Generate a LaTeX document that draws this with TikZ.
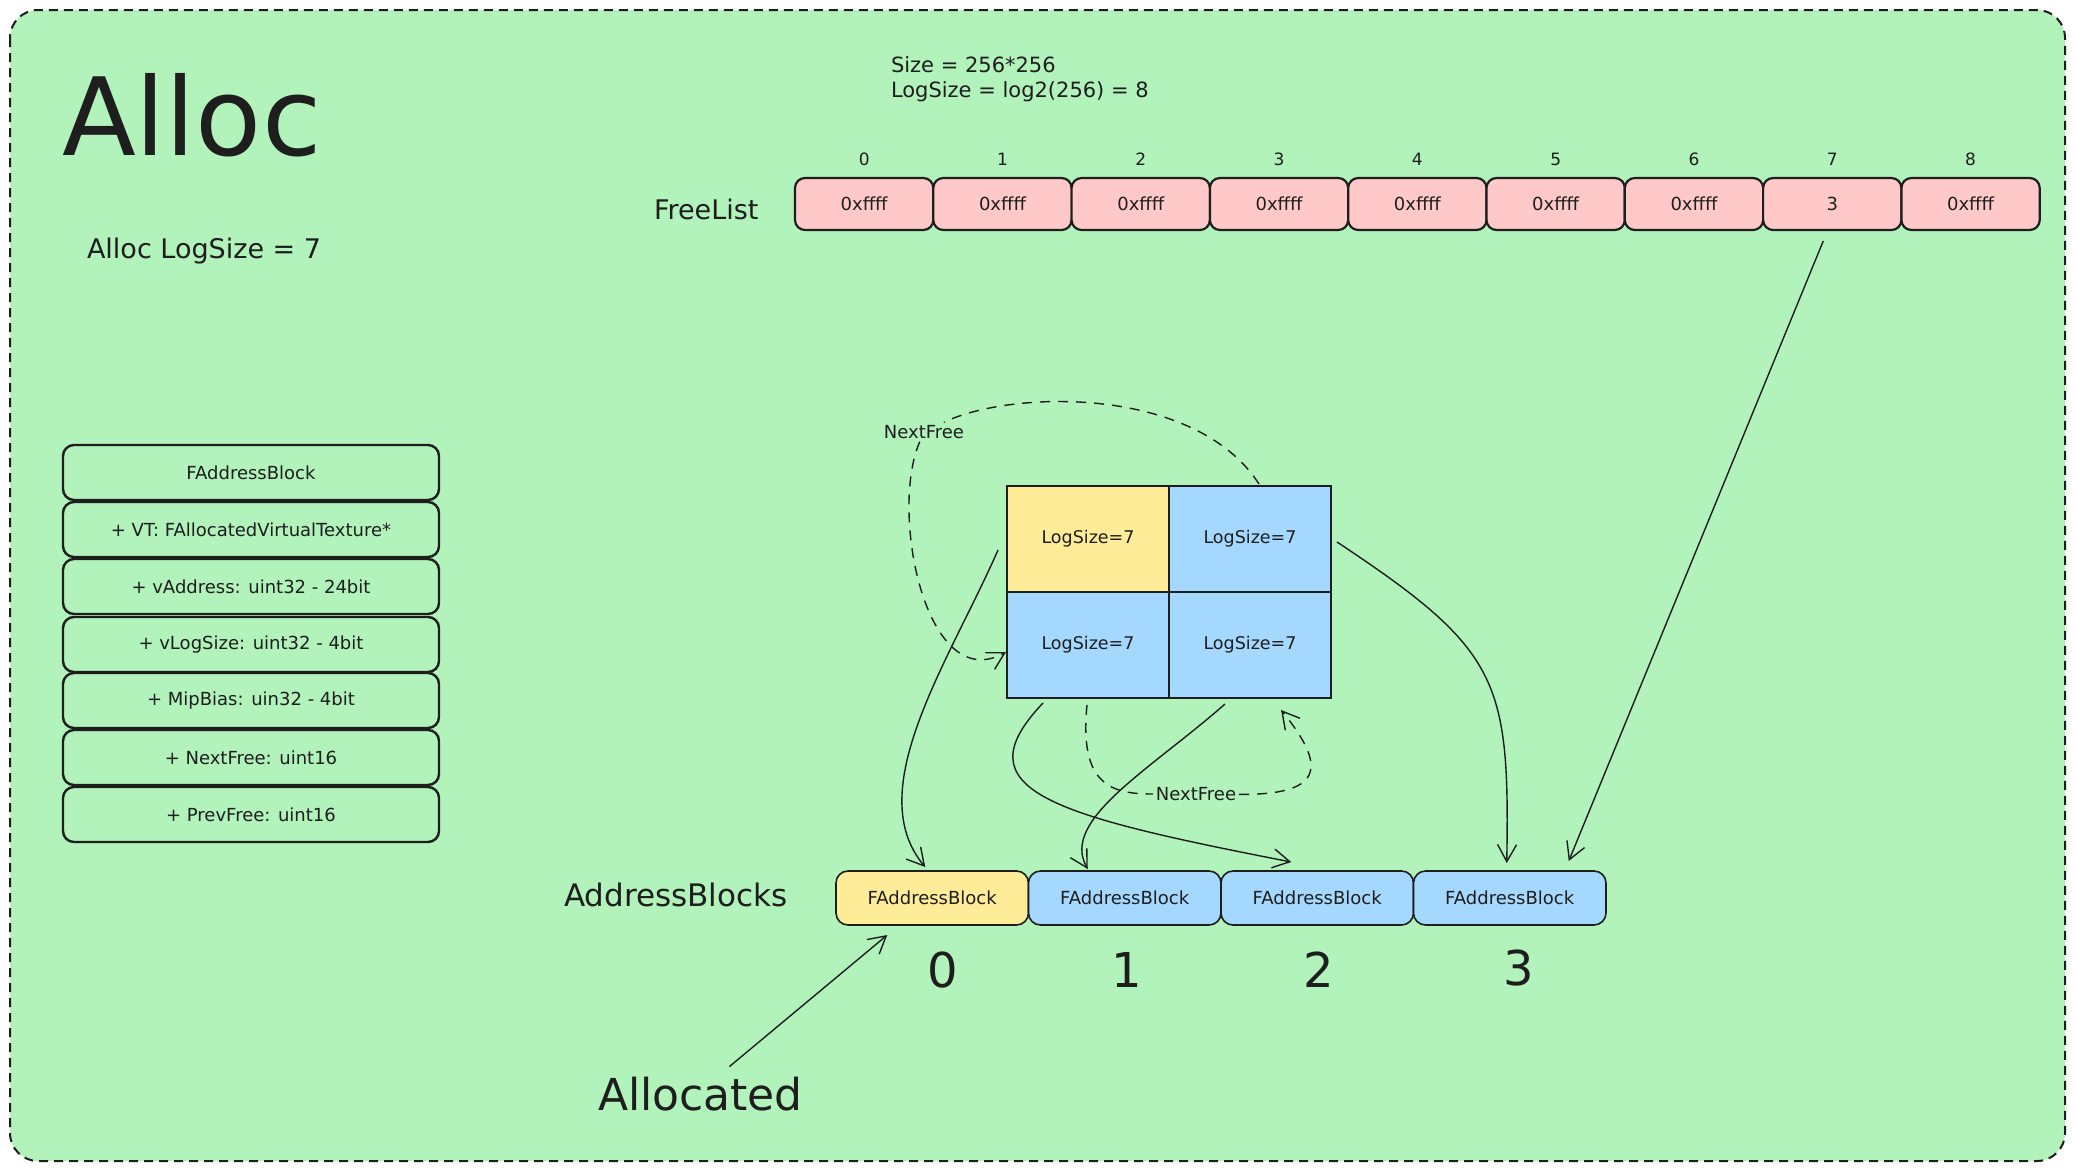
\documentclass[tikz,border=0pt]{standalone}
\usepackage{fontspec}
\setmainfont{DejaVu Sans}
\usetikzlibrary{arrows.meta,calc}
\newcommand{\myfs}[1]{\fontsize{#1}{#1}\selectfont}
\definecolor{bggreen}{HTML}{B2F2BB}
\definecolor{ink}{HTML}{1E1E1E}
\definecolor{pinkfill}{HTML}{FFC9C9}
\definecolor{yellowfill}{HTML}{FFEC99}
\definecolor{bluefill}{HTML}{A5D8FF}
\begin{document}
\begin{tikzpicture}[x=1pt,y=-1pt,
  txt/.style={text=ink, inner sep=0pt, outer sep=0pt},
  flbox/.style={draw=ink, fill=pinkfill, rounded corners=10pt, line width=2.2pt, minimum width=138.3pt, minimum height=52pt, inner sep=0pt, outer sep=0pt, anchor=north west, text=ink, font=\myfs{18}},
  flidx/.style={txt, font=\myfs{17}},
  umlbox/.style={draw=ink, rounded corners=11pt, line width=2.4pt, minimum width=376pt, minimum height=55pt, inner sep=0pt, outer sep=0pt, anchor=north west, text=ink, font=\myfs{18}},
  cellbox/.style={draw=ink, line width=2.2pt, minimum width=162pt, minimum height=106pt, inner sep=0pt, outer sep=0pt, anchor=north west, text=ink, font=\myfs{17.5}},
  abox/.style={draw=ink, rounded corners=12pt, line width=1.6pt, minimum width=192.5pt, minimum height=54pt, inner sep=0pt, outer sep=0pt, anchor=north west, text=ink, font=\myfs{18}},
  bigdigit/.style={txt, font=\myfs{48}},
  conn/.style={draw=ink, line width=1.4pt, -{Straight Barb[length=17pt,width=19pt]}},
  dline/.style={draw=ink, line width=1.4pt, dash pattern=on 10pt off 8pt},
  dconn/.style={dline, -{Straight Barb[length=17pt,width=19pt]}},
  nflabel/.style={text=ink, inner sep=3pt, outer sep=0pt, font=\myfs{18}},
]
\useasboundingbox (0,0) rectangle (2076,1171);
\fill[white] (0,0) rectangle (2076,1171);
\draw[draw=ink, fill=bggreen, line width=2pt, dash pattern=on 9pt off 6pt, rounded corners=28pt] (10,10) rectangle (2065,1161);

% texts
\node[txt, font=\myfs{108}, anchor=base west] (title) at (62,155) {Alloc};
\node[txt, font=\myfs{27}, anchor=base west] (allocls) at (87,258) {Alloc LogSize = 7};
\node[txt, font=\myfs{21}, anchor=base west] (size1) at (891,72) {Size = 256*256};
\node[txt, font=\myfs{21}, anchor=base west] (size2) at (891,97) {LogSize = log2(256) = 8};
\node[txt, font=\myfs{27}, anchor=base west] (freelbl) at (654,219) {FreeList};
\node[txt, font=\myfs{31}, anchor=base west] (ablbl) at (564,906) {AddressBlocks};
\node[txt, font=\myfs{44}, anchor=base west] (allocated) at (598,1110) {Allocated};

% free list
\foreach \i/\v in {0/0xffff,1/0xffff,2/0xffff,3/0xffff,4/0xffff,5/0xffff,6/0xffff,7/3,8/0xffff}{
  \node[flbox] (fl\i) at ({795+138.3*\i},178) {\v};
  \node[flidx] (fli\i) at ({795+138.3*\i+69.15},159) {\i};
}

% UML stack
\node[umlbox] (uml0) at (63,445) {FAddressBlock};
\node[umlbox] (uml1) at (63,502) {+ VT: FAllocatedVirtualTexture*};
\node[umlbox] (uml2) at (63,559) {+ vAddress: uint32 - 24bit};
\node[umlbox] (uml3) at (63,617) {+ vLogSize: uint32 - 4bit};
\node[umlbox] (uml4) at (63,673) {+ MipBias: uin32 - 4bit};
\node[umlbox] (uml5) at (63,730) {+ NextFree: uint16};
\node[umlbox] (uml6) at (63,787) {+ PrevFree: uint16};

% grid cells
\node[cellbox, fill=yellowfill] (c00) at (1007,486) {LogSize=7};
\node[cellbox, fill=bluefill] (c01) at (1169,486) {LogSize=7};
\node[cellbox, fill=bluefill] (c10) at (1007,592) {LogSize=7};
\node[cellbox, fill=bluefill] (c11) at (1169,592) {LogSize=7};

% address blocks
\node[abox, fill=yellowfill] (ab0) at (836,871) {FAddressBlock};
\node[abox, fill=bluefill] (ab1) at (1028.5,871) {FAddressBlock};
\node[abox, fill=bluefill] (ab2) at (1221,871) {FAddressBlock};
\node[abox, fill=bluefill] (ab3) at (1413.5,871) {FAddressBlock};
\node[bigdigit] (d0) at (943,970) {0};
\node[bigdigit] (d1) at (1127,970) {1};
\node[bigdigit] (d2) at (1319,970) {2};
\node[bigdigit] (d3) at (1519,968) {3};

% NextFree labels
\node[nflabel] (nf1) at (924,432) {NextFree};
\node[nflabel] (nf2) at (1196,794) {NextFree};

% connectors
\draw[conn] ($(fl7.south)+(-9,11)$) -- ($(ab3.north)+(59,-10)$);
\draw[conn] ($(c00.west)+(-9,11)$) .. controls +(-48,110) and +(-65,-77) .. ($(ab0.north)+(-7,-4)$);
\draw[conn] ($(c10.south)+(-45,5)$) .. controls +(-83,87) and +(-241,-47) .. ($(ab2.north)+(-26,-9)$);
\draw[conn] ($(c11.south)+(-25,6)$) .. controls +(-75,66) and +(-28,-49) .. ($(ab1.north)+(-37,-2)$);
\draw[conn] ($(c01.east)+(6,3)$) .. controls +(163,108) and +(3,-183) .. ($(ab3.north)+(-3,-8)$);
\draw[conn] ($(allocated.north)+(29,-10)$) -- ($(ab0.south)+(-45,10)$);

% dashed NextFree links
\draw[dline] ($(c01.north)+(9,-2)$) .. controls +(-64,-99) and +(86,-42) .. (nf1);
\draw[dconn] (nf1) .. controls +(-35,80) and +(-80,45) .. ($(c10.west)+(-1,7)$);
\draw[dline] ($(c10.south)+(-1,7)$) .. controls +(-8,80) and +(-85,0) .. (nf2);
\draw[dconn] (nf2) .. controls +(124,1) and +(49,60) .. ($(c11.south)+(31,12)$);
\end{tikzpicture}
\end{document}
